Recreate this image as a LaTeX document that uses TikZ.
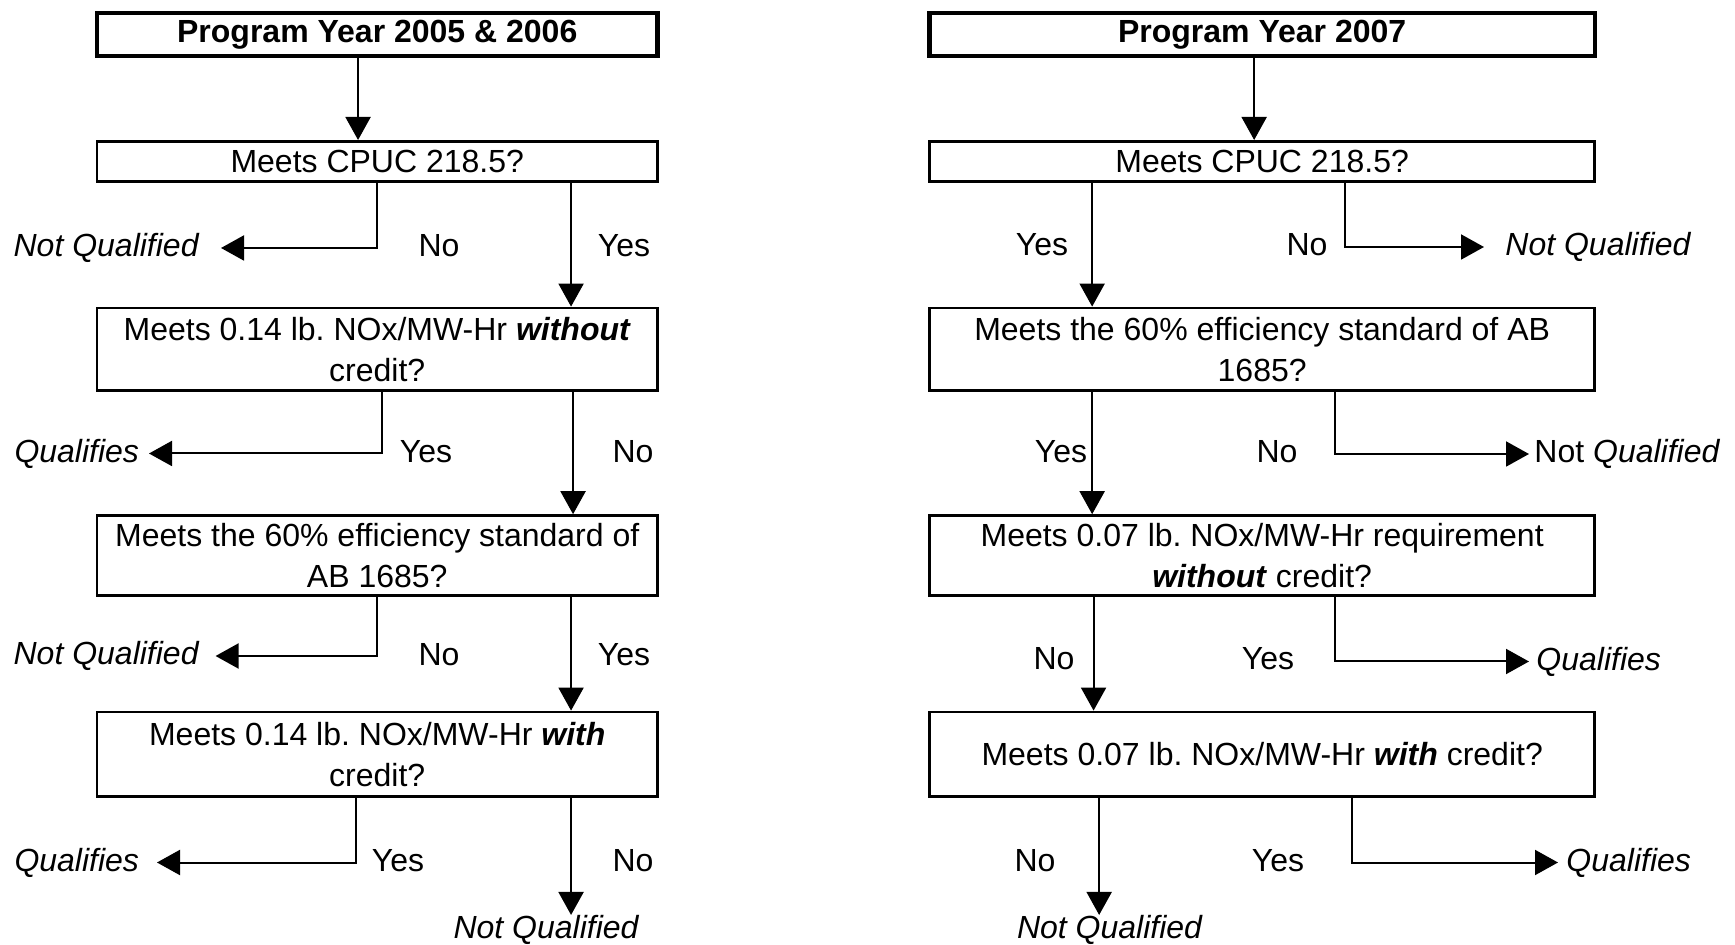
\documentclass[tikz,border=0pt]{standalone}
\usepackage{fontspec}
\setmainfont{Liberation Sans}
\usetikzlibrary{arrows.meta,positioning}
\frenchspacing

\begin{document}
\begin{tikzpicture}[x=0.5pt, y=-0.5pt, font=\fontsize{16}{20.5}\selectfont]
            \tikzstyle{block} = [draw, rectangle, line width=1.4pt, align=center, inner sep=0pt]
            \tikzstyle{yearblock} = [block, line width=2.2pt, minimum height=21.45pt, font=\fontsize{16}{20.5}\selectfont\bfseries]
            \tikzstyle{colA} = [minimum width=280.3pt]
            \tikzstyle{colB} = [minimum width=332.6pt]
            \tikzstyle{answer} = [inner sep=0pt]
            \tikzstyle{result} = [inner sep=0pt, font=\fontsize{16}{20.5}\selectfont\itshape]
            \tikzstyle{flow} = [line width=1pt, -{Triangle[length=11.5pt, width=12.5pt]}]

            \useasboundingbox (0,0) rectangle (1735,945);

            % Program Year 2005 & 2006
            \node [yearblock, colA] (yearA) at (377.25,34.35) {Program Year 2005 \& 2006};
            \node [block, colA, minimum height=19.9pt, below = 41pt of yearA] (cpucA) {Meets CPUC 218.5?};
            \node [block, colA, minimum height=41.1pt, below = 62pt of cpucA] (noxA) {Meets 0.14 lb. NOx/MW-Hr \textbf{\textit{without}}\\credit?};
            \node [block, colA, minimum height=40.1pt, below = 61.3pt of noxA] (effA) {Meets the 60\% efficiency standard of\\AB 1685?};
            \node [block, colA, minimum height=42.1pt, below = 56.7pt of effA] (creditA) {Meets 0.14 lb. NOx/MW-Hr \textbf{\textit{with}}\\credit?};

            \node [result, anchor=east] (nqA1) at (199,248) {Not Qualified};
            \node [result, anchor=east] (qA2) at (139.4,453.5) {Qualifies};
            \node [result, anchor=east] (nqA3) at (199,656) {Not Qualified};
            \node [result, anchor=east] (qA4) at (139.4,862.5) {Qualifies};
            \node [result] (nqA5) at (546,930) {Not Qualified};

            \node [answer] (noA1) at (439,246) {No};
            \node [answer] (yesA1) at (624,246) {Yes};
            \node [answer] (yesA2) at (426,452) {Yes};
            \node [answer] (noA2) at (633,452) {No};
            \node [answer] (noA3) at (439,655) {No};
            \node [answer] (yesA3) at (624,655) {Yes};
            \node [answer] (yesA4) at (398,861) {Yes};
            \node [answer] (noA4) at (633,861) {No};

            \draw [flow] ([xshift=-9.6pt]yearA.south) -- ([xshift=-9.6pt]yearA.south |- cpucA.north);
            \draw [flow] (cpucA.south) |- ([xshift=11pt]nqA1.east);
            \draw [flow] ([xshift=96.9pt]cpucA.south) -- ([xshift=96.9pt]noxA.north);
            \draw [flow] ([xshift=2.4pt]noxA.south) |- ([xshift=4.8pt]qA2.east);
            \draw [flow] ([xshift=97.9pt]noxA.south) -- ([xshift=97.9pt]effA.north);
            \draw [flow] (effA.south) |- ([xshift=8.3pt]nqA3.east);
            \draw [flow] ([xshift=96.9pt]effA.south) -- ([xshift=96.9pt]creditA.north);
            \draw [flow] ([xshift=-10.8pt]creditA.south) |- ([xshift=8.8pt]qA4.east);
            \draw [flow] ([xshift=96.9pt]creditA.south) -- ([xshift=96.9pt]creditA.south |- nqA5.north);

            % Program Year 2007
            \node [yearblock, colB, right = 133.8pt of yearA] (yearB) {Program Year 2007};
            \node [block, colB, minimum height=19.9pt, below = 41pt of yearB] (cpucB) {Meets CPUC 218.5?};
            \node [block, colB, minimum height=41.1pt, below = 62pt of cpucB] (effB) {Meets the 60\% efficiency standard of AB\\1685?};
            \node [block, colB, minimum height=40.1pt, below = 61.3pt of effB] (noxB) {Meets 0.07 lb. NOx/MW-Hr requirement\\\textbf{\textit{without}} credit?};
            \node [block, colB, minimum height=42.1pt, below = 56.7pt of noxB] (creditB) {Meets 0.07 lb. NOx/MW-Hr \textbf{\textit{with}} credit?};

            \node [result, anchor=west] (nqB1) at (1505,247) {Not Qualified};
            \node [result, anchor=west] (nqB2) at (1534,454) {{\upshape Not} Qualified};
            \node [result, anchor=west] (qB3) at (1536,661.5) {Qualifies};
            \node [result, anchor=west] (qB4) at (1566,862.5) {Qualifies};
            \node [result] (nqB5) at (1109.5,930) {Not Qualified};

            \node [answer] (yesB1) at (1042,245) {Yes};
            \node [answer] (noB1) at (1307,245) {No};
            \node [answer] (yesB2) at (1061,452) {Yes};
            \node [answer] (noB2) at (1277,452) {No};
            \node [answer] (noB3) at (1054,659) {No};
            \node [answer] (yesB3) at (1268,659) {Yes};
            \node [answer] (noB4) at (1035,861) {No};
            \node [answer] (yesB4) at (1278,861) {Yes};

            \draw [flow] ([xshift=-4pt]yearB.south) -- ([xshift=-4pt]yearB.south |- cpucB.north);
            \draw [flow] ([xshift=-85pt]cpucB.south) -- ([xshift=-85pt]effB.north);
            \draw [flow] ([xshift=41.2pt]cpucB.south) |- ([xshift=-10.5pt]nqB1.west);
            \draw [flow] ([xshift=-85pt]effB.south) -- ([xshift=-85pt]noxB.north);
            \draw [flow] ([xshift=36.5pt]effB.south) |- ([xshift=-2.5pt]nqB2.west);
            \draw [flow] ([xshift=-84.3pt]noxB.south) -- ([xshift=-84.3pt]creditB.north);
            \draw [flow] ([xshift=36.5pt]noxB.south) |- ([xshift=-3.5pt]qB3.west);
            \draw [flow] ([xshift=-81.5pt]creditB.south) -- ([xshift=-81.5pt]creditB.south |- nqB5.north);
            \draw [flow] ([xshift=45pt]creditB.south) |- ([xshift=-4pt]qB4.west);
\end{tikzpicture}
\end{document}
